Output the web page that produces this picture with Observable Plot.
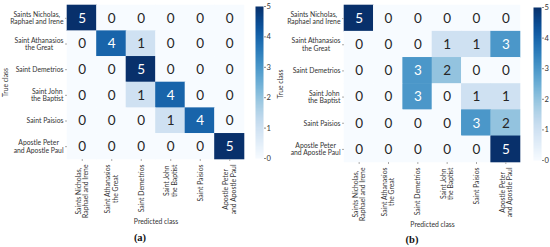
<!DOCTYPE html>
<html>
<head>
<meta charset="utf-8">
<script src="https://cdn.jsdelivr.net/npm/d3@7"></script>
<script src="https://cdn.jsdelivr.net/npm/@observablehq/plot@0.6"></script>
<style>
  html, body { margin: 0; padding: 0; background: #fff; }
  #fig { position: relative; width: 550px; height: 247px; background: #fff; overflow: hidden; }
  #fig > svg, #fig > div { position: absolute; }
  .cap { font-family: "Liberation Serif", "Times New Roman", serif; font-weight: bold; font-size: 10.5px; color: #111; transform: translateX(-50%); }
</style>
</head>
<body>
<div id="fig"></div>
<script>
// ---- data ----
const classes = [
  "Saints Nicholas,\nRaphael and Irene",
  "Saint Athanasios\nthe Great",
  "Saint Demetrios",
  "Saint John\nthe Baptist",
  "Saint Paisios",
  "Apostle Peter\nand Apostle Paul"
];
const countsA = [
  [5, 0, 0, 0, 0, 0],
  [0, 4, 1, 0, 0, 0],
  [0, 0, 5, 0, 0, 0],
  [0, 0, 1, 4, 0, 0],
  [0, 0, 0, 1, 4, 0],
  [0, 0, 0, 0, 0, 5]
];
const countsB = [
  [5, 0, 0, 0, 0, 0],
  [0, 0, 0, 1, 1, 3],
  [0, 0, 3, 2, 0, 0],
  [0, 0, 3, 0, 1, 1],
  [0, 0, 0, 0, 3, 2],
  [0, 0, 0, 0, 0, 5]
];
const colorbarTicks = [0, 1, 2, 3, 4, 5];
const panelLabels = ["(a)", "(b)"];
const xTitle = "Predicted class";
const yTitle = "True class";

// ---- layout ----
const H = 230;
const panels = [
  {counts: countsA, label: panelLabels[0], left: 0, heatL: 67, heatR: 244, heatT: 5, heatB: 159, cbL: 255, cbT: 6, cbB: 158, capX: 140, capY: 232},
  {counts: countsB, label: panelLabels[1], left: 275, heatL: 344, heatR: 520, heatT: 5, heatB: 162, cbL: 533, cbT: 7, cbB: 160, capX: 412, capY: 234}
];
const fig = document.getElementById("fig");
const font = "Lato, 'Open Sans', sans-serif";
const colorOpts = {type: "linear", scheme: "blues", domain: [0, 5]};

function centerMultiline(svg) {
  svg.querySelectorAll("text").forEach(t => {
    const spans = t.querySelectorAll("tspan");
    if (spans.length < 2) return;
    const lens = Array.from(spans, s => s.getComputedTextLength());
    const L = Math.max(...lens);
    spans.forEach((s, i) => s.setAttribute("dx", -(L - lens[i]) / 2));
  });
}

for (const p of panels) {
  const cells = p.counts.flatMap((row, i) => row.map((v, j) => ({t: classes[i], p: classes[j], v})));
  const W = 250;
  const heat = Plot.plot({
    width: W, height: H,
    marginLeft: p.heatL - p.left, marginRight: W - (p.heatR - p.left),
    marginTop: p.heatT, marginBottom: H - p.heatB,
    style: {fontFamily: font, fontSize: "6.8px", color: "#333", background: "none"},
    x: {domain: classes, padding: 0, round: false, label: null},
    y: {domain: classes, padding: 0, round: false, label: null},
    color: colorOpts,
    marks: [
      Plot.cell(cells, {x: "p", y: "t", fill: "v", inset: -0.3}),
      Plot.text(cells.filter(d => d.v < 3), {x: "p", y: "t", text: "v", fill: "#262626", fontSize: 13.5}),
      Plot.text(cells.filter(d => d.v >= 3), {x: "p", y: "t", text: "v", fill: "#ffffff", fontSize: 13.5}),
      Plot.axisX({anchor: "bottom", tickRotate: -90, tickSize: 2, tickPadding: 3, stroke: "#aaa", fill: "#333", lineHeight: 1.05,
                  label: xTitle, labelAnchor: "center", labelOffset: 64}),
      Plot.axisY({anchor: "left", tickSize: 2, tickPadding: 2, stroke: "#aaa", fill: "#333", lineHeight: 1.05,
                  label: yTitle, labelAnchor: "center", labelOffset: p.heatL - p.left - 3})
    ]
  });
  heat.style.left = p.left + "px";
  heat.style.top = "0px";
  fig.appendChild(heat);
  centerMultiline(heat);

  const CW = 26;
  const cb = Plot.plot({
    width: CW, height: H,
    marginLeft: 0, marginRight: 18, marginTop: p.cbT, marginBottom: H - p.cbB,
    style: {fontFamily: font, fontSize: "7.6px", color: "#333", background: "none"},
    x: {domain: [0, 1], axis: null},
    y: {domain: [0, 5], axis: null},
    color: colorOpts,
    marks: [
      Plot.raster({fill: (x, y) => y, x1: 0, x2: 1, y1: 0, y2: 5, width: 1, height: 256, imageRendering: "auto"}),
      Plot.axisY({anchor: "right", ticks: colorbarTicks, tickFormat: d3.format("d"), tickSize: 2, tickPadding: 1, stroke: "#888", label: null})
    ]
  });
  cb.style.left = p.cbL + "px";
  cb.style.top = "0px";
  fig.appendChild(cb);

  const cap = document.createElement("div");
  cap.className = "cap";
  cap.textContent = p.label;
  cap.style.left = p.capX + "px";
  cap.style.top = p.capY + "px";
  fig.appendChild(cap);
}
</script>
</body>
</html>
